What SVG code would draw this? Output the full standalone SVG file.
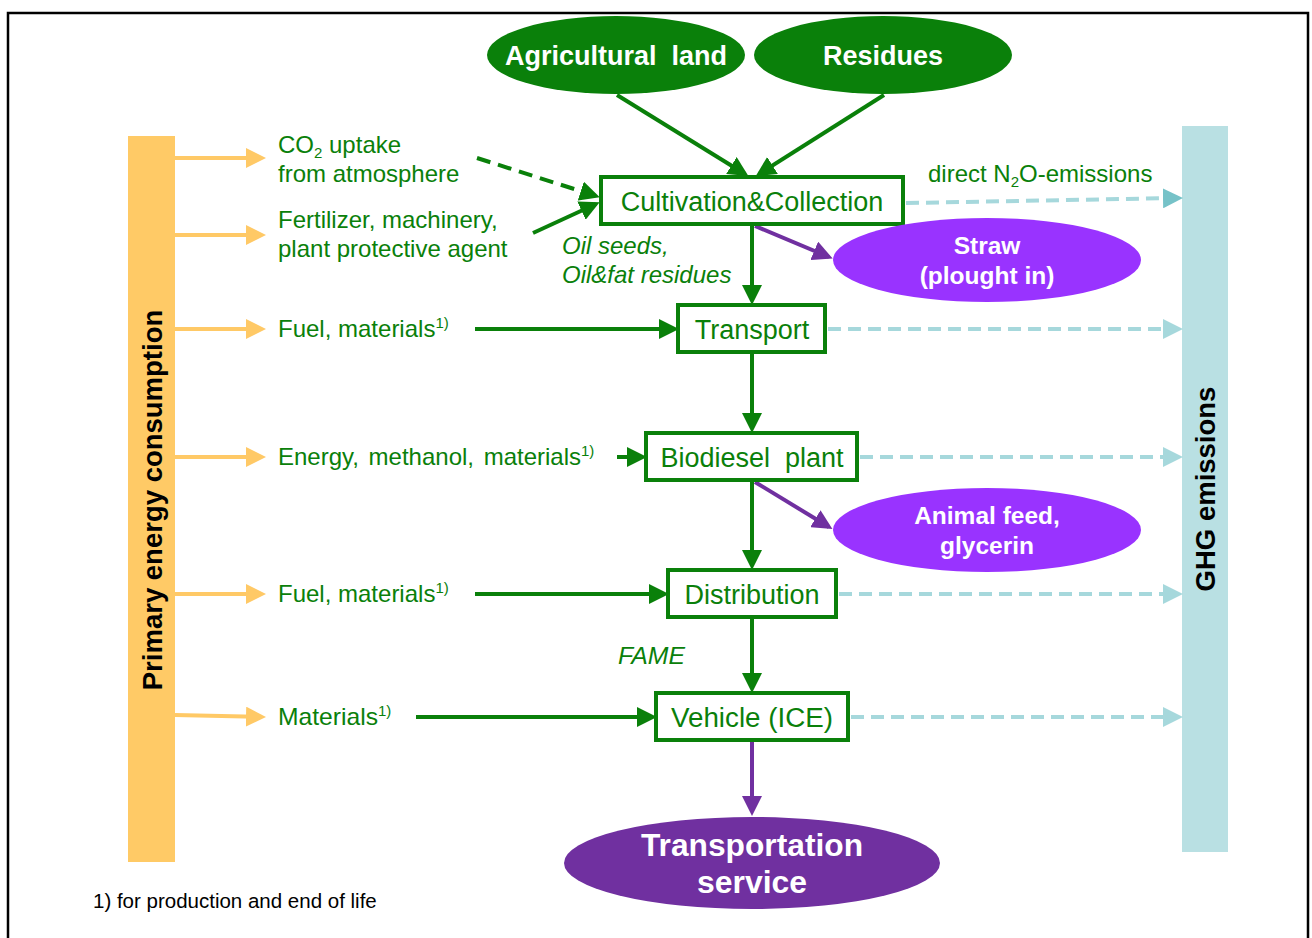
<svg xmlns="http://www.w3.org/2000/svg" width="1312" height="938" viewBox="0 0 1312 938">
<defs>
<style>
.t{font-family:"Liberation Sans",Arial,sans-serif;fill:#0A800A;font-size:24px}
.it{font-style:italic}
.box{fill:#fff;stroke:#0A800A;stroke-width:4}
.bt{font-family:"Liberation Sans",Arial,sans-serif;fill:#0A800A;font-size:27px;text-anchor:middle}
.wt{font-family:"Liberation Sans",Arial,sans-serif;fill:#fff;font-weight:bold;text-anchor:middle}
.g{stroke:#0A800A;stroke-width:4;fill:none}
.p{stroke:#7030A0;stroke-width:4;fill:none}
.o{stroke:#FFC966;stroke-width:4;fill:none}
.d{stroke:#A6D8DC;stroke-width:4;stroke-dasharray:13 7;fill:none}
</style>
<marker id="ag" markerWidth="5" markerHeight="5" refX="4" refY="2.5" orient="auto" markerUnits="strokeWidth"><path d="M0,0 L5,2.5 L0,5 z" fill="#0A800A"/></marker>
<marker id="ap" markerWidth="5" markerHeight="5" refX="4" refY="2.5" orient="auto" markerUnits="strokeWidth"><path d="M0,0 L5,2.5 L0,5 z" fill="#7030A0"/></marker>
<marker id="ao" markerWidth="5" markerHeight="5" refX="4" refY="2.5" orient="auto" markerUnits="strokeWidth"><path d="M0,0 L5,2.5 L0,5 z" fill="#FFC966"/></marker>
<marker id="ad" markerWidth="5" markerHeight="5" refX="4" refY="2.5" orient="auto" markerUnits="strokeWidth"><path d="M0,0 L5,2.5 L0,5 z" fill="#A6D8DC"/></marker>
<marker id="ad2" markerWidth="5" markerHeight="5" refX="4" refY="2.5" orient="auto" markerUnits="strokeWidth"><path d="M0,0 L5,2.5 L0,5 z" fill="#76C2C8"/></marker>
</defs>
<rect x="0" y="0" width="1312" height="938" fill="#fff"/>
<path d="M8,945 L8,13 L1308,13 L1308,945" fill="none" stroke="#000" stroke-width="2.5"/>

<g id="primary-energy">
<rect x="128" y="136" width="47" height="726" fill="#FFCA66"/>
<text transform="translate(162,500) rotate(-90)" font-family="Liberation Sans,Arial,sans-serif" font-weight="bold" font-size="27.5" text-anchor="middle" fill="#000">Primary energy consumption</text>
</g>
<g id="ghg-emissions">
<rect x="1182" y="126" width="46" height="726" fill="#B9E0E3"/>
<text transform="translate(1215,489) rotate(-90)" font-family="Liberation Sans,Arial,sans-serif" font-weight="bold" font-size="27.5" text-anchor="middle" fill="#000">GHG emissions</text>
</g>

<g id="connectors">
<line class="g" x1="617" y1="95" x2="745" y2="174" marker-end="url(#ag)"/>
<line class="g" x1="884" y1="95" x2="759" y2="174" marker-end="url(#ag)"/>
<line class="g" x1="477" y1="158" x2="596" y2="196" stroke-dasharray="14 8" marker-end="url(#ag)"/>
<line class="g" x1="533" y1="233" x2="596" y2="204" marker-end="url(#ag)"/>
<line class="g" x1="752" y1="224" x2="752" y2="301" marker-end="url(#ag)"/>
<line class="g" x1="752" y1="352" x2="752" y2="429" marker-end="url(#ag)"/>
<line class="g" x1="752" y1="480" x2="752" y2="566" marker-end="url(#ag)"/>
<line class="g" x1="752" y1="617" x2="752" y2="689" marker-end="url(#ag)"/>
<line class="g" x1="475" y1="329" x2="675" y2="329" marker-end="url(#ag)"/>
<line class="g" x1="617" y1="457" x2="643" y2="457" marker-end="url(#ag)"/>
<line class="g" x1="475" y1="594" x2="665" y2="594" marker-end="url(#ag)"/>
<line class="g" x1="416" y1="717" x2="653" y2="717" marker-end="url(#ag)"/>
<line class="p" x1="755" y1="226" x2="829" y2="257" marker-end="url(#ap)"/>
<line class="p" x1="755" y1="482" x2="829" y2="527" marker-end="url(#ap)"/>
<line class="p" x1="752" y1="740" x2="752" y2="812" marker-end="url(#ap)"/>
<line class="o" x1="175" y1="158" x2="262" y2="158" marker-end="url(#ao)"/>
<line class="o" x1="175" y1="235" x2="262" y2="235" marker-end="url(#ao)"/>
<line class="o" x1="175" y1="329" x2="262" y2="329" marker-end="url(#ao)"/>
<line class="o" x1="175" y1="457" x2="262" y2="457" marker-end="url(#ao)"/>
<line class="o" x1="175" y1="594" x2="262" y2="594" marker-end="url(#ao)"/>
<line class="o" x1="175" y1="715" x2="262" y2="717" marker-end="url(#ao)"/>
<line class="d" x1="906" y1="203" x2="1179" y2="198" stroke="#76C2C8" marker-end="url(#ad2)"/>
<line class="d" x1="828" y1="329" x2="1179" y2="329" marker-end="url(#ad)"/>
<line class="d" x1="860" y1="457" x2="1179" y2="457" marker-end="url(#ad)"/>
<line class="d" x1="839" y1="594" x2="1179" y2="594" marker-end="url(#ad)"/>
<line class="d" x1="851" y1="717" x2="1179" y2="717" marker-end="url(#ad)"/>
</g>

<g id="agricultural-land">
<ellipse cx="616" cy="55" rx="129" ry="39" fill="#0A800A"/>
<text class="wt" x="616" y="65" font-size="27" xml:space="preserve">Agricultural  land</text>
</g>
<g id="residues">
<ellipse cx="883" cy="55" rx="129" ry="39" fill="#0A800A"/>
<text class="wt" x="883" y="65" font-size="27">Residues</text>
</g>
<g id="cultivation">
<rect class="box" x="601" y="177" width="302" height="47"/>
<text class="bt" x="752" y="211">Cultivation&amp;Collection</text>
</g>
<g id="transport">
<rect class="box" x="678" y="305" width="147" height="47"/>
<text class="bt" x="752" y="339">Transport</text>
</g>
<g id="biodiesel-plant">
<rect class="box" x="646" y="433" width="211" height="47"/>
<text class="bt" x="752" y="467" xml:space="preserve">Biodiesel  plant</text>
</g>
<g id="distribution">
<rect class="box" x="668" y="570" width="168" height="47"/>
<text class="bt" x="752" y="604">Distribution</text>
</g>
<g id="vehicle">
<rect class="box" x="656" y="693" width="192" height="47"/>
<text class="bt" x="752" y="727" textLength="162" lengthAdjust="spacingAndGlyphs">Vehicle (ICE)</text>
</g>
<g id="straw">
<ellipse cx="987" cy="260" rx="154" ry="42" fill="#9933FF"/>
<text class="wt" x="987" y="254" font-size="24.5">Straw</text>
<text class="wt" x="987" y="284" font-size="24.5">(plought in)</text>
</g>
<g id="animal-feed">
<ellipse cx="987" cy="530" rx="154" ry="42" fill="#9933FF"/>
<text class="wt" x="987" y="524" font-size="24.5">Animal feed,</text>
<text class="wt" x="987" y="554" font-size="24.5">glycerin</text>
</g>
<g id="transportation-service">
<ellipse cx="752" cy="863" rx="188" ry="46" fill="#7030A0"/>
<text class="wt" x="752" y="856" font-size="32" textLength="222" lengthAdjust="spacingAndGlyphs">Transportation</text>
<text class="wt" x="752" y="893" font-size="32" textLength="110" lengthAdjust="spacingAndGlyphs">service</text>
</g>

<g id="labels">
<text class="t" x="278" y="153">CO<tspan font-size="15" dy="5">2</tspan><tspan dy="-5"> uptake</tspan></text>
<text class="t" x="278" y="182">from atmosphere</text>
<text class="t" x="278" y="228">Fertilizer, machinery,</text>
<text class="t" x="278" y="257">plant protective agent</text>
<text class="t it" x="562" y="254">Oil seeds,</text>
<text class="t it" x="562" y="283">Oil&amp;fat residues</text>
<text class="t" x="928" y="182">direct N<tspan font-size="15" dy="5">2</tspan><tspan dy="-5">O-emissions</tspan></text>
<text class="t" x="278" y="337">Fuel, materials<tspan font-size="15" dy="-9">1)</tspan></text>
<text class="t" x="278" y="465" word-spacing="3">Energy, methanol, materials<tspan font-size="15" dy="-9">1)</tspan></text>
<text class="t" x="278" y="602">Fuel, materials<tspan font-size="15" dy="-9">1)</tspan></text>
<text class="t it" x="618" y="664" textLength="67" lengthAdjust="spacingAndGlyphs">FAME</text>
<text class="t" x="278" y="725"><tspan textLength="100" lengthAdjust="spacingAndGlyphs">Materials</tspan><tspan font-size="15" dy="-9">1)</tspan></text>
<text x="93" y="908" font-family="Liberation Sans,Arial,sans-serif" font-size="20.5" fill="#000">1) for production and end of life</text>
</g>
</svg>
